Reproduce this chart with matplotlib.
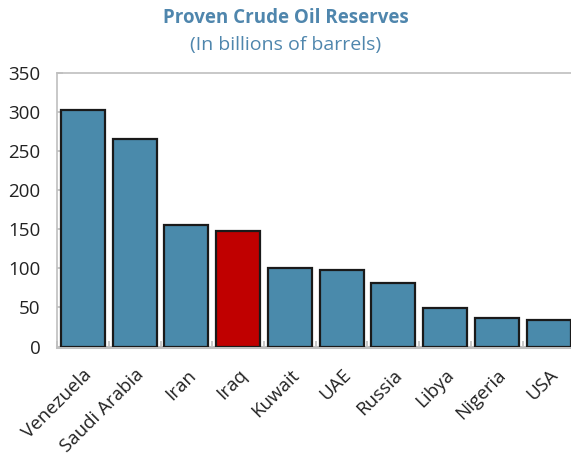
import matplotlib
matplotlib.use("Agg")
import matplotlib.pyplot as plt
import numpy as np

countries = ["Venezuela", "Saudi Arabia", "Iran", "Iraq", "Kuwait",
             "UAE", "Russia", "Libya", "Nigeria", "USA"]
reserves = [303, 266, 155, 148, 100, 98, 81, 49, 37, 34]
highlight = "Iraq"
y_ticks = [0, 50, 100, 150, 200, 250, 300, 350]

plt.rcParams["font.family"] = ["Open Sans", "DejaVu Sans"]

blue = "#4a8aab"
red = "#c00000"
grey = "#bfbfbf"
title_color = "#4f86ad"

fig = plt.figure(figsize=(5.71, 4.62), dpi=100)
ax = fig.add_axes([0.1, 0.25, 0.906, 0.592])

x = np.arange(len(countries))
colors = [red if c == highlight else blue for c in countries]
ax.bar(x, reserves, width=0.85, color=colors, edgecolor="#1a1a1a",
       linewidth=1.6, zorder=3)

ax.set_xlim(-0.5, len(countries) - 0.5)
ax.set_ylim(0, 350)
ax.set_yticks(y_ticks)
ax.set_yticklabels([str(v) for v in y_ticks], fontsize=13.5, color="#222222")
ax.set_xticks(x)
ax.set_xticklabels(countries, rotation=45, ha="right", rotation_mode="anchor",
                   fontsize=13.5, color="#222222")
ax.tick_params(axis="x", length=0, pad=14)
ax.tick_params(axis="y", direction="in", length=4, color=grey, width=1.2, pad=12)
ax.set_xticks(np.arange(len(countries) + 1) - 0.5, minor=True)
ax.tick_params(axis="x", which="minor", direction="in", length=4, color=grey, width=1.2)

for side in ["left", "top", "right"]:
    ax.spines[side].set_color(grey)
    ax.spines[side].set_linewidth(1.2)
ax.spines["bottom"].set_color(grey)
ax.spines["bottom"].set_linewidth(2.2)

fig.text(0.5, 0.962, "Proven Crude Oil Reserves", ha="center", va="center",
         fontsize=13.5, fontweight="bold", color=title_color)
fig.text(0.5, 0.902, "(In billions of barrels)", ha="center", va="center",
         fontsize=14, color=title_color)

fig.savefig("out.png", dpi=100)
